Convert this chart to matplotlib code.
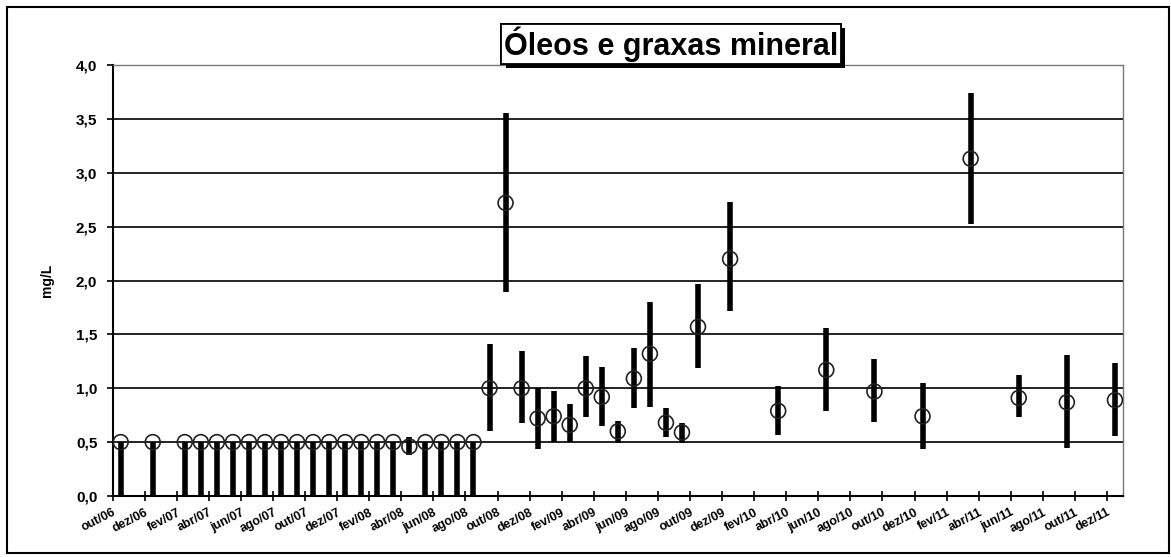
import numpy as np
import matplotlib
matplotlib.use("Agg")
import matplotlib.pyplot as plt
from matplotlib.patches import Rectangle
import matplotlib.patheffects as pe

# month labels on the axis: out/06 .. dez/11 (every month, ticks every 2)
MONTHS_PT = ["jan", "fev", "mar", "abr", "mai", "jun",
             "jul", "ago", "set", "out", "nov", "dez"]

# sample month, mean value and min/max range (mg/L)
sample_month = [
    "out/06", "dez/06",
    "fev/07", "mar/07", "abr/07", "mai/07", "jun/07", "jul/07", "ago/07",
    "set/07", "out/07", "nov/07", "dez/07",
    "jan/08", "fev/08", "mar/08", "abr/08", "mai/08", "jun/08", "jul/08",
    "ago/08", "set/08", "out/08", "nov/08", "dez/08",
    "jan/09", "fev/09", "mar/09", "abr/09", "mai/09", "jun/09", "jul/09",
    "ago/09", "set/09", "out/09", "dez/09",
    "mar/10", "jun/10", "set/10", "dez/10",
    "mar/11", "jun/11", "set/11", "dez/11",
]
mean_val = [
    0.5, 0.5,
    0.5, 0.5, 0.5, 0.5, 0.5, 0.5, 0.5,
    0.5, 0.5, 0.5, 0.5,
    0.5, 0.5, 0.5, 0.46, 0.5, 0.5, 0.5,
    0.5, 1.0, 2.72, 1.0, 0.72,
    0.74, 0.66, 1.0, 0.92, 0.6, 1.09, 1.32,
    0.68, 0.59, 1.57, 2.2,
    0.79, 1.17, 0.97, 0.74,
    3.13, 0.91, 0.87, 0.89,
]
min_val = [
    0.0, 0.0,
    0.0, 0.0, 0.0, 0.0, 0.0, 0.0, 0.0,
    0.0, 0.0, 0.0, 0.0,
    0.0, 0.0, 0.0, 0.38, 0.0, 0.0, 0.0,
    0.0, 0.6, 1.89, 0.68, 0.44,
    0.5, 0.5, 0.73, 0.65, 0.49, 0.82, 0.83,
    0.55, 0.49, 1.19, 1.72,
    0.57, 0.79, 0.69, 0.44,
    2.52, 0.73, 0.45, 0.56,
]
max_val = [
    0.5, 0.5,
    0.5, 0.5, 0.5, 0.5, 0.5, 0.5, 0.5,
    0.5, 0.5, 0.5, 0.5,
    0.5, 0.5, 0.5, 0.55, 0.5, 0.5, 0.5,
    0.5, 1.41, 3.55, 1.35, 1.0,
    0.97, 0.85, 1.3, 1.2, 0.7, 1.37, 1.8,
    0.82, 0.68, 1.97, 2.73,
    1.02, 1.56, 1.27, 1.05,
    3.74, 1.12, 1.31, 1.23,
]


def month_index(label):
    # months since out/06
    m, y = label.split("/")
    return (2000 + int(y) - 2006) * 12 + MONTHS_PT.index(m) - 9


def main():
    x = np.array([month_index(s) for s in sample_month]) + 0.5

    tick_pos = np.arange(0, 63, 2)
    tick_lab = []
    for t in tick_pos:
        mi = (9 + t) % 12
        yy = 6 + (9 + t) // 12
        tick_lab.append(f"{MONTHS_PT[mi]}/{yy:02d}")

    plt.rcParams["font.family"] = ["Liberation Sans", "DejaVu Sans"]
    fig = plt.figure(figsize=(11.71, 5.57), dpi=100)
    ax = fig.add_axes([0.0962, 0.1095, 0.8628, 0.7738])

    for yv in np.arange(0.5, 4.0, 0.5):
        ax.axhline(yv, color="#111111", lw=1.3, zorder=1)

    ax.vlines(x, min_val, max_val, color="black", lw=4, zorder=2)
    ax.scatter(x, mean_val, s=115, facecolors="none", edgecolors="#222222",
               linewidths=1.2, zorder=3)

    ax.set_xlim(0, 63)
    ax.set_ylim(0, 4)
    ax.set_yticks(np.arange(0, 4.01, 0.5))
    ax.set_yticklabels([f"{v:.1f}".replace(".", ",") for v in np.arange(0, 4.01, 0.5)],
                       fontsize=11, fontweight="bold")
    ax.set_xticks(tick_pos)
    ax.set_xticklabels(tick_lab, rotation=27, ha="right", rotation_mode="anchor",
                       fontsize=9, fontweight="bold")
    ax.tick_params(axis="x", direction="inout", length=7, width=1.2, pad=4)
    ax.tick_params(axis="y", direction="out", length=4, width=1.2, pad=7)

    ax.set_ylabel("mg/L", fontsize=10, fontweight="bold")
    ax.yaxis.set_label_coords(-0.058, 0.5)

    for side in ["left", "bottom"]:
        ax.spines[side].set_color("black")
        ax.spines[side].set_linewidth(1.5)
    for side in ["top", "right"]:
        ax.spines[side].set_color("#777777")
        ax.spines[side].set_linewidth(1.0)

    t = fig.text(0.573, 0.921, "Óleos e graxas mineral", ha="center", va="center",
                 fontsize=22, fontweight="bold",
                 bbox=dict(boxstyle="square,pad=0.08", fc="white", ec="black", lw=1.3))
    t.get_bbox_patch().set_path_effects(
        [pe.withSimplePatchShadow(offset=(3, -3), shadow_rgbFace="black", alpha=1.0),
         pe.Normal()])

    fig.add_artist(Rectangle((7 / 1171, 4 / 557), 1162 / 1171, 546 / 557,
                             transform=fig.transFigure, fill=False,
                             ec="black", lw=1.5))

    fig.savefig("out.png", dpi=100)


if __name__ == "__main__":
    main()
